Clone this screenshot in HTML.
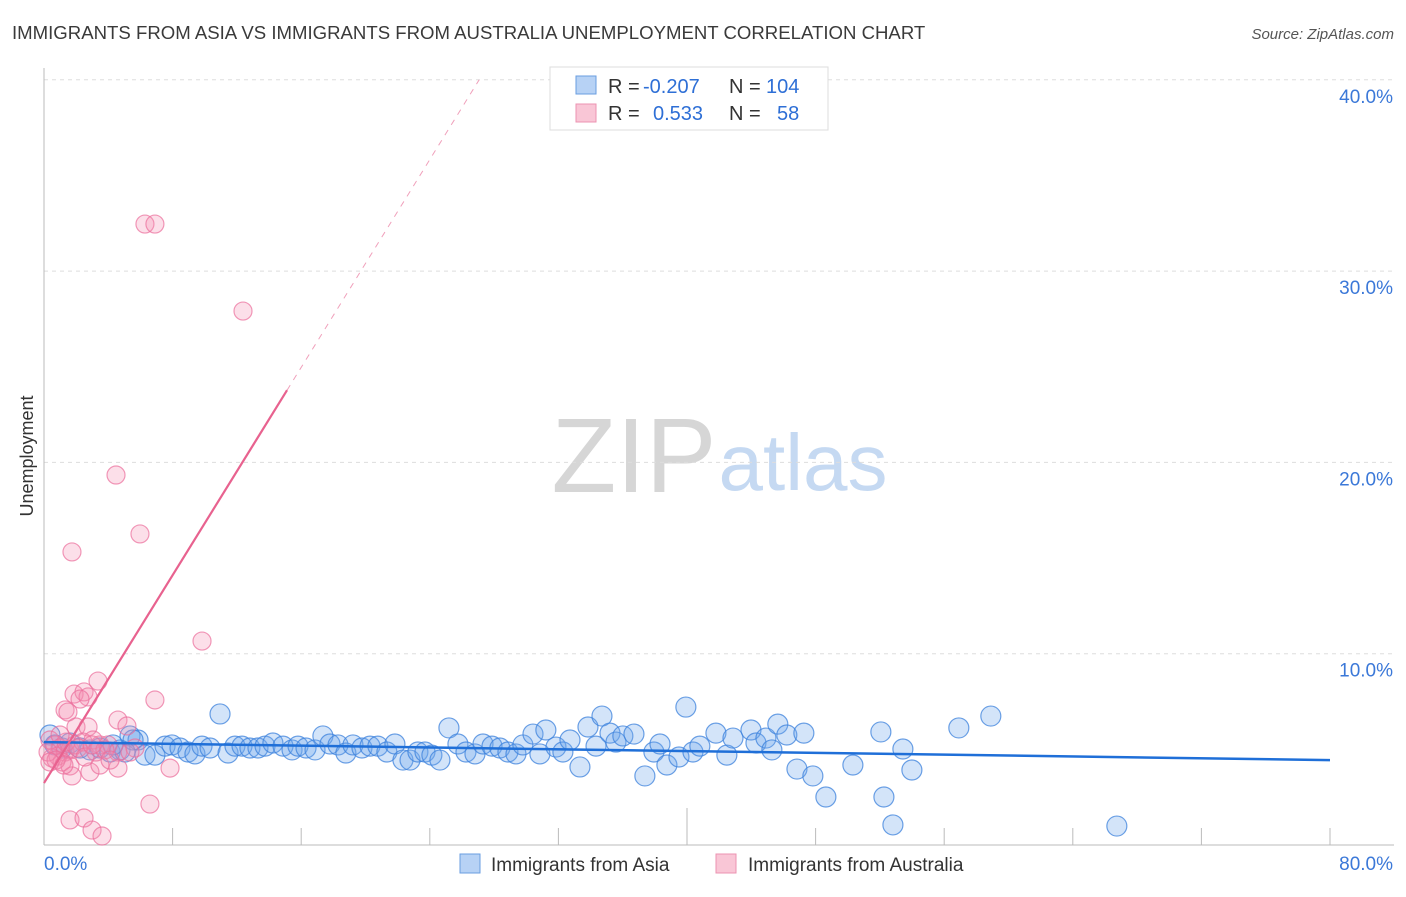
<!DOCTYPE html>
<html><head><meta charset="utf-8"><style>
body{margin:0;background:#fff;font-family:"Liberation Sans",sans-serif}
svg text{font-family:"Liberation Sans",sans-serif}
</style></head><body>
<svg id="c" width="1406" height="892" viewBox="0 0 1406 892">
<text x="12" y="39" font-size="18.6" fill="#3a3a3a">IMMIGRANTS FROM ASIA VS IMMIGRANTS FROM AUSTRALIA UNEMPLOYMENT CORRELATION CHART</text>
<text x="1394" y="39" font-size="15" fill="#555" font-style="italic" text-anchor="end">Source: ZipAtlas.com</text>
<text x="33" y="456" font-size="18" fill="#333" transform="rotate(-90 33 456)" text-anchor="middle">Unemployment</text>
<g>
<text x="634" y="492" font-size="106" fill="#d6d6d6" font-family="Liberation Serif" text-anchor="middle">ZIP</text>
<text x="803" y="490" font-size="80" fill="#c5d9f2" text-anchor="middle">atlas</text>
</g>
<g id="grid"></g><g id="axes"></g><g id="pts"></g><g id="trend"></g>
<g>
<rect x="550" y="67" width="278" height="63" fill="#fff" stroke="#ddd"/>
<rect x="576" y="76" width="20" height="18" fill="#b7d2f5" stroke="#6a9ee0"/>
<rect x="576" y="104" width="20" height="18" fill="#f9c6d6" stroke="#ec93b1"/>
<text x="608" y="93" font-size="20" fill="#333">R = <tspan x="643" fill="#2e6fd6">-0.207</tspan><tspan x="729" fill="#333">N = </tspan><tspan x="766" fill="#2e6fd6">104</tspan></text>
<text x="608" y="120" font-size="20" fill="#333">R = <tspan x="653" fill="#2e6fd6">0.533</tspan><tspan x="729" fill="#333">N = </tspan><tspan x="777" fill="#2e6fd6">58</tspan></text>
</g>
<g>
<rect x="460" y="854" width="20" height="19" fill="#b7d2f5" stroke="#6a9ee0"/>
<text x="491" y="871" font-size="19" fill="#333">Immigrants from Asia</text>
<rect x="716" y="854" width="20" height="19" fill="#f9c6d6" stroke="#ec93b1"/>
<text x="748" y="871" font-size="19" fill="#333">Immigrants from Australia</text>
</g>
</svg>
<script>
const yTicks=[10,20,30,40];
const yTickLabels=["10.0%","20.0%","30.0%","40.0%"];
const xTicks=[0,8,16,24,32,40,48,56,64,72,80];
const xTickLabels=["0.0%","80.0%"];
const asiaX=[0.37,0.68,1.12,1.62,2.24,2.86,3.48,4.11,4.73,5.35,5.85,6.28,6.90,7.53,7.96,8.46,8.96,9.39,9.83,10.33,10.95,11.45,11.88,12.32,12.81,13.31,13.75,14.24,14.87,15.43,15.80,16.30,16.86,17.35,17.79,18.29,18.78,19.22,19.78,20.28,20.77,21.33,21.83,22.33,22.77,23.26,23.70,24.13,24.63,25.19,25.75,26.25,26.81,27.31,27.87,28.36,28.86,29.36,29.79,30.42,30.85,31.22,31.85,32.28,32.72,33.34,33.84,34.34,34.71,35.21,35.58,36.01,36.70,37.38,37.94,38.32,38.75,39.50,39.93,40.37,40.80,41.80,42.48,42.86,43.98,44.29,44.91,45.28,45.65,46.21,47.27,46.84,47.83,48.64,50.32,52.06,52.25,52.81,53.43,53.99,56.91,58.90,66.74,5.54,5.04,4.29];
const asiaY=[5.75,5.23,5.07,5.33,5.07,4.97,5.07,4.86,4.97,5.70,5.49,4.70,4.70,5.17,5.23,5.07,4.86,4.76,5.17,5.07,6.85,4.81,5.17,5.17,5.07,5.07,5.17,5.33,5.17,4.97,5.17,5.07,4.97,5.70,5.28,5.23,4.81,5.23,5.07,5.17,5.17,4.86,5.28,4.44,4.44,4.86,4.86,4.70,4.44,6.12,5.28,4.86,4.76,5.28,5.17,5.07,4.86,4.76,5.23,5.80,4.76,6.01,5.12,4.86,5.49,4.08,6.17,5.17,6.74,5.85,5.38,5.70,5.80,3.61,4.86,5.28,4.18,4.60,7.21,4.86,5.17,5.85,4.70,5.59,6.01,5.33,5.59,4.97,6.32,5.75,5.85,3.97,3.61,2.51,4.18,5.91,2.51,1.05,5.02,3.92,6.12,6.74,0.99,5.49,4.86,5.23];
const ausX=[6.28,6.90,12.38,4.48,5.97,1.74,9.83,3.36,6.90,1.87,2.49,2.74,2.24,1.31,1.49,4.60,5.16,1.99,2.74,0.37,0.68,1.00,1.31,0.87,1.62,1.93,2.43,3.05,3.48,3.98,4.60,0.50,1.12,1.62,2.86,3.48,4.60,1.74,7.84,6.59,1.62,2.49,2.99,3.61,5.66,0.25,0.75,1.37,2.11,3.23,1.00,3.79,0.37,2.55,1.24,4.11,5.35,2.99];
const ausY=[32.46,32.46,27.91,19.34,16.26,15.32,10.66,8.57,7.58,7.89,8.00,7.74,7.63,7.06,6.95,6.53,6.22,6.17,6.17,5.49,5.23,5.07,4.86,4.65,4.97,5.23,5.38,5.49,5.23,5.23,4.86,4.55,4.34,4.13,3.82,4.18,4.02,3.61,4.02,2.14,1.31,1.41,0.78,0.47,5.07,4.86,4.44,5.38,5.07,4.86,5.75,4.97,4.34,4.60,4.18,4.44,4.86,5.23];
const asiaTrend=[5.38,4.44];
const ausTrend=[3.24,1.358];
const NS="http://www.w3.org/2000/svg";
const X0=44,X1=1330,Y0=845,PY=19.13;
function sx(v){return X0+(v/80)*(X1-X0);}
function sy(v){return Y0-v*PY;}
function mk(tag,attrs,parent){const e=document.createElementNS(NS,tag);for(const k in attrs)e.setAttribute(k,attrs[k]);document.getElementById(parent).appendChild(e);return e;}
yTicks.forEach((t,i)=>{
 const l=mk('line',{x1:44,x2:1394,y1:sy(t),y2:sy(t),stroke:'#ddd','stroke-dasharray':'4 4'},'grid');
 
 
 const tx=mk('text',{x:1393,y:sy(t)+23,'font-size':19,fill:'#3b78d8','text-anchor':'end'},'grid');
 tx.textContent=yTickLabels[i];
 
 
});
const ax=mk('line',{x1:44,x2:44,y1:68,y2:845,stroke:'#bbb'},'axes');


const bx=mk('line',{x1:44,x2:1394,y1:845,y2:845,stroke:'#bbb'},'axes');


xTicks.forEach((t,i)=>{
 const tk=mk('line',{x1:sx(t),x2:sx(t),y1:(t===40?808:828),y2:845,stroke:'#bbb'},'axes');
 
 
});
[[0,'start'],[80,'end']].forEach((p,i)=>{
 const tx=mk('text',{x:i?1393:44,y:870,'font-size':19,fill:'#3b78d8','text-anchor':p[1]},'axes');
 tx.textContent=xTickLabels[i];
 
 
});
asiaX.forEach((x,i)=>{
 const c=mk('circle',{cx:sx(x),cy:sy(asiaY[i]),r:10,fill:'rgba(110,165,235,0.3)',stroke:'rgba(60,130,220,0.75)','stroke-width':1.2},'pts');
 
 
});
ausX.forEach((x,i)=>{
 const c=mk('circle',{cx:sx(x),cy:sy(ausY[i]),r:9,fill:'rgba(245,140,175,0.28)',stroke:'rgba(235,110,155,0.7)','stroke-width':1.2},'pts');
 
 
});
const bl=mk('line',{x1:sx(0),y1:sy(asiaTrend[0]),x2:sx(80),y2:sy(asiaTrend[1]),stroke:'#1f6fd8','stroke-width':2.5},'trend');


const xs=15.12, xe=(40-ausTrend[0])/ausTrend[1];
const pl=mk('line',{x1:sx(0),y1:sy(ausTrend[0]),x2:sx(xs),y2:sy(ausTrend[0]+ausTrend[1]*xs),stroke:'#e8628f','stroke-width':2.2},'trend');


const pd=mk('line',{x1:sx(xs),y1:sy(ausTrend[0]+ausTrend[1]*xs),x2:sx(xe),y2:sy(40),stroke:'#f0a0bb','stroke-width':1,'stroke-dasharray':'6 6'},'trend');


</script>
</body></html>
